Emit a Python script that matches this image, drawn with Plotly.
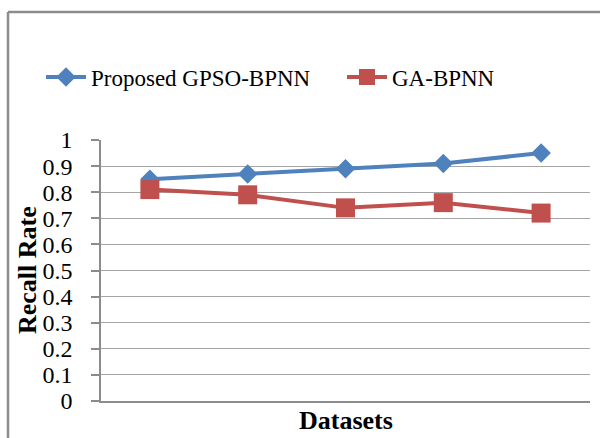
import plotly.graph_objects as go

datasets = ["D1", "D2", "D3", "D4", "D5"]
gpso_bpnn = [0.85, 0.87, 0.89, 0.91, 0.95]
ga_bpnn = [0.81, 0.79, 0.74, 0.76, 0.72]

FONT = "Liberation Serif, Times New Roman, serif"
BLUE = "#4F81BD"
RED = "#C0504D"
GRAY = "#8C8C8C"

L, R, T, B = 101, 10, 140, 37
W, H = 600, 438
pw, ph = W - L - R, H - T - B

fig = go.Figure()
fig.add_trace(go.Scatter(x=datasets, y=gpso_bpnn, mode="lines+markers",
                         name="Proposed GPSO-BPNN", legend="legend",
                         line=dict(color=BLUE, width=4),
                         marker=dict(symbol="diamond", size=15, color=BLUE)))
fig.add_trace(go.Scatter(x=datasets, y=ga_bpnn, mode="lines+markers",
                         name="GA-BPNN", legend="legend2",
                         line=dict(color=RED, width=4),
                         marker=dict(symbol="square", size=19, color=RED)))

def px(x):
    return (x - L) / pw

def py(y):
    return 1 - (y - T) / ph

leg_common = dict(orientation="h", yanchor="middle", xanchor="left",
                  font=dict(size=23), itemwidth=40,
                  bgcolor="rgba(0,0,0,0)")

fig.update_layout(
    width=W, height=H,
    margin=dict(l=L, r=R, t=T, b=B, autoexpand=False),
    paper_bgcolor="white", plot_bgcolor="white",
    font=dict(family=FONT, size=23, color="black"),
    showlegend=True,
    legend=dict(x=px(41), y=py(77), **leg_common),
    legend2=dict(x=px(342), y=py(77), **leg_common),
    xaxis=dict(type="category", range=[-0.5, 4.5], showticklabels=False,
               showgrid=False, showline=True, linecolor=GRAY, linewidth=1.5,
               ticks="", zeroline=False, automargin=False),
    yaxis=dict(range=[0, 1], dtick=0.1, showgrid=True, gridcolor="#A6A6A6",
               gridwidth=1, showline=True, linecolor=GRAY, linewidth=1.5,
               ticks="outside", ticklen=8, tickcolor=GRAY, tickwidth=1.5,
               ticklabelstandoff=14,
               tickfont=dict(size=24), zeroline=False, automargin=False),
    annotations=[
        dict(text="<b>Recall Rate</b>", xref="paper", yref="paper",
             x=px(27), y=py(270), textangle=-90, showarrow=False,
             font=dict(size=26), xanchor="center", yanchor="middle"),
        dict(text="<b>Datasets</b>", xref="paper", yref="paper",
             x=0.5, y=py(420), showarrow=False,
             font=dict(size=26), xanchor="center", yanchor="middle"),
    ],
    shapes=[
        dict(type="line", xref="paper", yref="paper", x0=px(8), x1=px(8),
             y0=py(12), y1=py(445), line=dict(color=GRAY, width=2.5)),
        dict(type="line", xref="paper", yref="paper", x0=px(8), x1=px(610),
             y0=py(12), y1=py(12), line=dict(color=GRAY, width=2.5)),
    ],
)

fig.write_html("out.html", config={"displayModeBar": False},
               post_script="document.body.style.margin='0';document.body.style.overflow='hidden';")
